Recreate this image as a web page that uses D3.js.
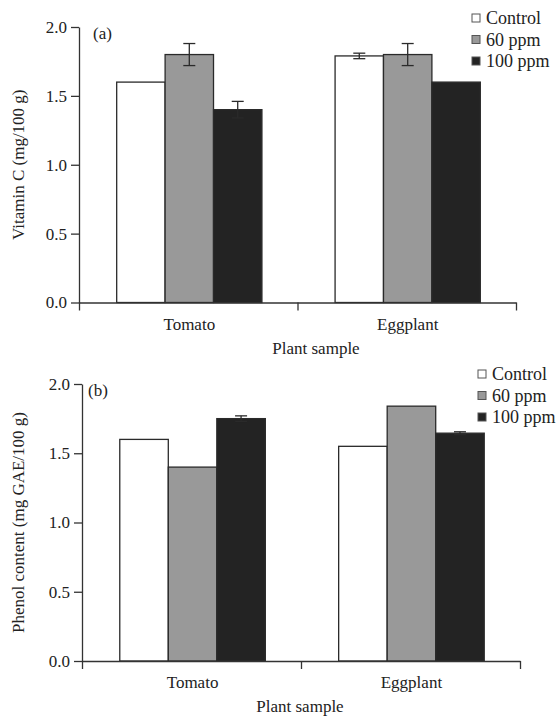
<!DOCTYPE html>
<html>
<head>
<meta charset="utf-8">
<script src="https://cdn.jsdelivr.net/npm/d3@7"></script>
<style>
  body { margin: 0; background: #fff; }
  text { font-family: "Liberation Serif", "Times New Roman", serif; fill: #222; }
</style>
</head>
<body>
<div id="chart"></div>
<script>
// data
var plants = ["Tomato", "Eggplant"];
var treatments = ["Control", "60 ppm", "100 ppm"];

var vitaminC = [[1.60, 1.80, 1.40], [1.79, 1.80, 1.60]];
var vitaminCErr = [[0, 0.08, 0.06], [0.02, 0.08, 0]];

var phenol = [[1.60, 1.40, 1.75], [1.55, 1.84, 1.645]];
var phenolErr = [[0, 0, 0.02], [0, 0, 0.01]];

var yTicks = [0, 0.5, 1.0, 1.5, 2.0];

var fills = ["#ffffff", "#999999", "#232323"];

// svg
var svgWidth = 558;
var svgHeight = 717;

var svg = d3.select("#chart")
    .append("svg")
    .attr("width", svgWidth)
    .attr("height", svgHeight);

function drawPanel(cfg) {
    var g = svg.append("g");

    var yScale = d3.scaleLinear()
        .domain([0, 2])
        .range([cfg.bottom, cfg.top]);

    // x axis boundaries (ticks at ends and between groups)
    var xLin = d3.scaleLinear()
        .domain([0, 2])
        .range([cfg.left, cfg.right]);

    var x0 = d3.scaleBand()
        .domain(plants)
        .range([cfg.left, cfg.right])
        .paddingInner(0.335)
        .paddingOuter(0.168);

    var x1 = d3.scaleBand()
        .domain(treatments)
        .range([0, x0.bandwidth()]);

    // bars
    plants.forEach(function(p, i) {
        var grp = g.append("g")
            .attr("transform", `translate(${x0(p) + cfg.shift},0)`);

        grp.selectAll("rect")
            .data(cfg.values[i])
            .enter()
            .append("rect")
            .attr("x", (d, j) => x1(treatments[j]))
            .attr("y", d => yScale(d))
            .attr("width", x1.bandwidth())
            .attr("height", d => yScale(0) - yScale(d))
            .attr("fill", (d, j) => fills[j])
            .attr("stroke", "#2a2a2a")
            .attr("stroke-width", 1.3);

        // error bars
        cfg.errors[i].forEach(function(e, j) {
            if (!e) return;
            var v = cfg.values[i][j];
            var cx = x1(treatments[j]) + x1.bandwidth() / 2;
            grp.append("line")
                .attr("x1", cx).attr("x2", cx)
                .attr("y1", yScale(v + e)).attr("y2", yScale(v - e))
                .attr("stroke", "#2a2a2a").attr("stroke-width", 1.3);
            [v + e, v - e].forEach(function(t) {
                grp.append("line")
                    .attr("x1", cx - 6).attr("x2", cx + 6)
                    .attr("y1", yScale(t)).attr("y2", yScale(t))
                    .attr("stroke", "#2a2a2a").attr("stroke-width", 1.3);
            });
        });
    });

    // y axis
    var leftAxis = d3.axisLeft(yScale)
        .tickValues(yTicks)
        .tickFormat(d3.format(".1f"))
        .tickSize(8)
        .tickSizeOuter(0);

    var yAxis = g.append("g")
        .attr("transform", `translate(${cfg.left},0)`)
        .call(leftAxis);
    yAxis.select(".domain").attr("stroke", "#333").attr("stroke-width", 1.3);
    yAxis.selectAll(".tick line").attr("stroke", "#333").attr("stroke-width", 1.3);
    yAxis.selectAll(".tick text")
        .attr("x", -12)
        .attr("font-size", "17px")
        .style("font-family", "Liberation Serif, serif")
        .attr("fill", "#222");

    // x axis
    var bottomAxis = d3.axisBottom(xLin)
        .tickValues([0, 1, 2])
        .tickFormat("")
        .tickSize(8)
        .tickSizeOuter(0);

    var xAxis = g.append("g")
        .attr("transform", `translate(0,${cfg.bottom})`)
        .call(bottomAxis);
    xAxis.select(".domain").attr("stroke", "#333").attr("stroke-width", 1.3);
    xAxis.selectAll(".tick line").attr("stroke", "#333").attr("stroke-width", 1.3);

    // category labels
    g.selectAll(".cat")
        .data(plants)
        .enter()
        .append("text")
        .attr("x", d => x0(d) + x0.bandwidth() / 2 + cfg.shift)
        .attr("y", cfg.bottom + 27)
        .attr("text-anchor", "middle")
        .attr("font-size", "17px")
        .text(d => d);

    g.append("text")
        .attr("x", cfg.titleX)
        .attr("y", cfg.bottom + 51)
        .attr("text-anchor", "middle")
        .attr("font-size", "17px")
        .text("Plant sample");

    // y label
    g.append("text")
        .attr("transform", `translate(24,${(cfg.top + cfg.bottom) / 2}) rotate(-90)`)
        .attr("text-anchor", "middle")
        .attr("font-size", "17px")
        .text(cfg.yLabel);

    // panel label
    g.append("text")
        .attr("x", cfg.tagX)
        .attr("y", cfg.top + 12)
        .attr("font-size", "17px")
        .text(cfg.tag);

    // legend
    var legend = g.append("g")
        .attr("transform", `translate(${cfg.legendX},${cfg.legendY})`);

    treatments.forEach(function(t, j) {
        legend.append("rect")
            .attr("x", 0)
            .attr("y", j * 21.5 - 4)
            .attr("width", 8)
            .attr("height", 8)
            .attr("fill", fills[j])
            .attr("stroke", "#555")
            .attr("stroke-width", 1);
        legend.append("text")
            .attr("x", 14)
            .attr("y", j * 21.5 + 6)
            .attr("font-size", "18px")
            .text(t);
    });
}

drawPanel({
    values: vitaminC, errors: vitaminCErr,
    top: 27, bottom: 302.5, left: 79, right: 516, shift: 1,
    yLabel: "Vitamin C (mg/100 g)", tag: "(a)", tagX: 93,
    titleX: 316, legendX: 472, legendY: 18
});

drawPanel({
    values: phenol, errors: phenolErr,
    top: 384, bottom: 661, left: 82, right: 520, shift: 1,
    yLabel: "Phenol content (mg GAE/100 g)", tag: "(b)", tagX: 88,
    titleX: 300, legendX: 478, legendY: 374
});
</script>
</body>
</html>
